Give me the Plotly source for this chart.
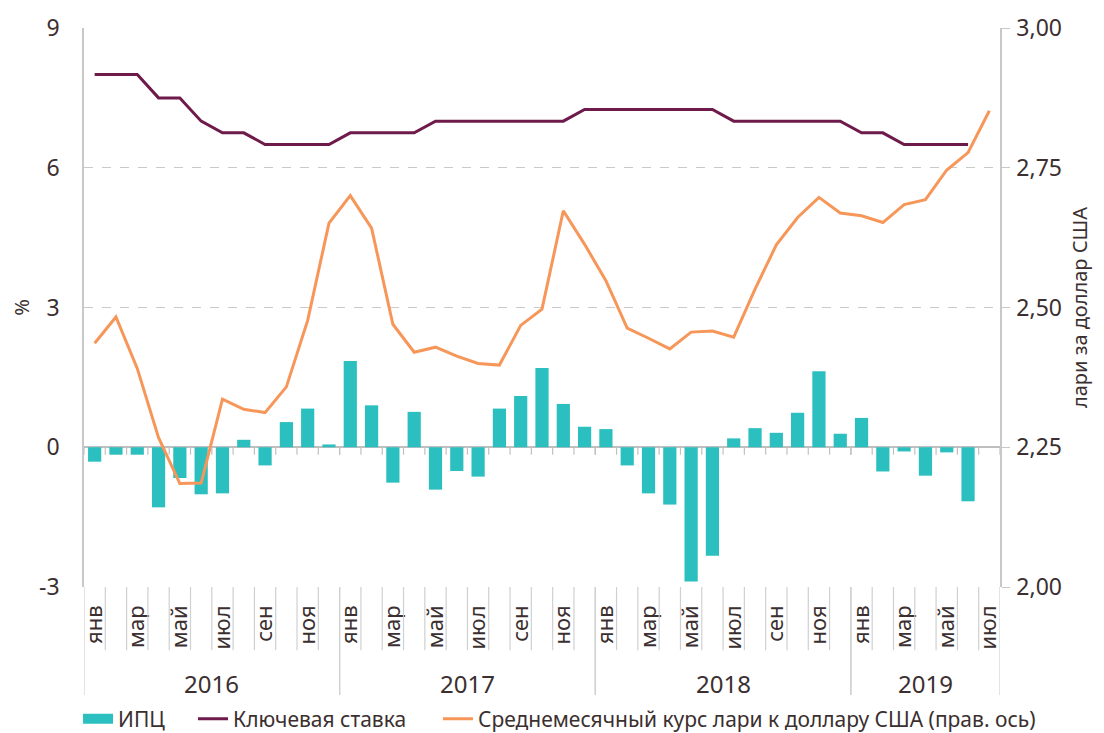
import plotly.graph_objects as go

months = ["янв", "фев", "мар", "апр", "май", "июн", "июл", "авг", "сен", "окт", "ноя", "дек"]
years = ["2016", "2017", "2018", "2019"]
month_labels = [m for y in years[:3] for m in months] + months[:7]

cpi = [-0.31, -0.16, -0.16, -1.29, -0.66, -1.01, -0.99, 0.16, -0.39, 0.54, 0.83, 0.06,
       1.85, 0.90, -0.76, 0.76, -0.91, -0.51, -0.63, 0.83, 1.10, 1.70, 0.93, 0.44,
       0.39, -0.39, -0.99, -1.23, -2.88, -2.33, 0.19, 0.41, 0.31, 0.74, 1.63, 0.29,
       0.63, -0.52, -0.09, -0.61, -0.11, -1.16, None]

key_rate = [8.0, 8.0, 8.0, 7.5, 7.5, 7.0, 6.75, 6.75, 6.5, 6.5, 6.5, 6.5,
            6.75, 6.75, 6.75, 6.75, 7.0, 7.0, 7.0, 7.0, 7.0, 7.0, 7.0, 7.25,
            7.25, 7.25, 7.25, 7.25, 7.25, 7.25, 7.0, 7.0, 7.0, 7.0, 7.0, 7.0,
            6.75, 6.75, 6.5, 6.5, 6.5, 6.5, None]

gel_usd = [2.436, 2.483, 2.391, 2.267, 2.185, 2.186, 2.336, 2.318, 2.312, 2.358, 2.477, 2.651,
           2.700, 2.642, 2.470, 2.420, 2.429, 2.413, 2.400, 2.397, 2.468, 2.497, 2.673, 2.613,
           2.548, 2.463, 2.445, 2.426, 2.456, 2.458, 2.447, 2.533, 2.612, 2.661, 2.697, 2.669,
           2.664, 2.652, 2.684, 2.693, 2.746, 2.777, 2.852]

year_month_counts = [12, 12, 12, 7]

left_ticks = [-3, 0, 3, 6, 9]
left_tick_text = ["-3", "0", "3", "6", "9"]

n = len(month_labels)
x = list(range(n))

TEXT = "#3b2f2f"
GRID = "#c9c9c9"
FONT = "Noto Sans"
TEAL = "#2bbfbf"

fig = go.Figure()
fig.add_trace(go.Bar(x=x, y=cpi, name="ИПЦ", marker_color=TEAL,
                     marker_line_width=0, width=0.62, showlegend=False))
# legend entry for the bars (wide rectangular swatch as in the original)
fig.add_trace(go.Scatter(x=[None], y=[None], name="ИПЦ", mode="lines",
                         line=dict(color=TEAL, width=12), legend="legend"))
fig.add_trace(go.Scatter(x=x, y=key_rate, name="Ключевая ставка", mode="lines",
                         line=dict(color="#6e1a4a", width=3), legend="legend2"))
fig.add_trace(go.Scatter(x=x, y=gel_usd, name="Среднемесячный курс лари к доллару США (прав. ось)",
                         mode="lines", line=dict(color="#f79659", width=3), yaxis="y2",
                         legend="legend3"))

shapes = []
start = 0
for cnt in year_month_counts:
    for k in range(cnt + 1):
        b = start + k - 0.5
        is_year = (k == 0 or k == cnt)
        shapes.append(dict(type="line", xref="x", yref="paper", x0=b, x1=b,
                           y0=0, y1=-0.193 if is_year else -0.113,
                           line=dict(color="#d0d0d0", width=1.2)))
        shapes.append(dict(type="line", xref="x", yref="y", x0=b, x1=b,
                           y0=0, y1=-0.16, line=dict(color="#c0c0c0", width=1.2)))
    start += cnt

annotations = []
start = 0
for yr, cnt in zip(years, year_month_counts):
    annotations.append(dict(text=yr, xref="x", yref="paper", x=start + (cnt - 1) / 2,
                            y=-0.172, showarrow=False, yanchor="middle",
                            font=dict(size=24, color=TEXT, family=FONT)))
    start += cnt

leg_common = dict(orientation="h", xref="container", xanchor="left",
                  yref="container", y=0.019, yanchor="middle",
                  font=dict(size=21, color=TEXT, family=FONT), itemwidth=30,
                  bgcolor="rgba(0,0,0,0)")

fig.update_layout(
    width=1096, height=725,
    margin=dict(l=76, r=104, t=20, b=146, autoexpand=False),
    plot_bgcolor="white", paper_bgcolor="white",
    separators=", ",
    font=dict(family=FONT, color=TEXT, size=20),
    showlegend=True,
    legend=dict(x=0.0639, **leg_common),
    legend2=dict(x=0.1688, **leg_common),
    legend3=dict(x=0.3923, **leg_common),
    xaxis=dict(range=[-0.5, n - 0.5], tickvals=x[::2], ticktext=month_labels[::2],
               tickangle=-90, showgrid=False, zeroline=False, showline=False,
               ticks="", tickfont=dict(size=22, color=TEXT, family=FONT),
               ticklabelstandoff=13, automargin=False),
    yaxis=dict(range=[-3, 9], tickvals=left_ticks, ticktext=left_tick_text,
               showgrid=True, gridcolor=GRID,
               griddash="dash", gridwidth=1, zeroline=True, zerolinecolor="#bfbfbf",
               zerolinewidth=1.5, showline=True, linecolor="#c8c8c8", linewidth=1.5,
               ticks="", tickfont=dict(size=23, color=TEXT, family=FONT),
               ticklabelstandoff=18, automargin=False,
               title=dict(text="%", font=dict(size=20, color=TEXT, family=FONT), standoff=14)),
    yaxis2=dict(range=[2.0, 3.0], dtick=0.25, tick0=2.0, tickformat=".2f", overlaying="y",
                side="right", showgrid=False, zeroline=False, showline=True,
                linecolor="#c8c8c8", linewidth=1.5, ticks="outside", ticklen=8,
                tickcolor="#c8c8c8", tickfont=dict(size=23, color=TEXT, family=FONT),
                ticklabelstandoff=2, automargin=False,
                title=dict(text="лари за доллар США", font=dict(size=20, color=TEXT, family=FONT),
                           standoff=12)),
    shapes=shapes,
    annotations=annotations,
)

fig.write_html("out.html")
